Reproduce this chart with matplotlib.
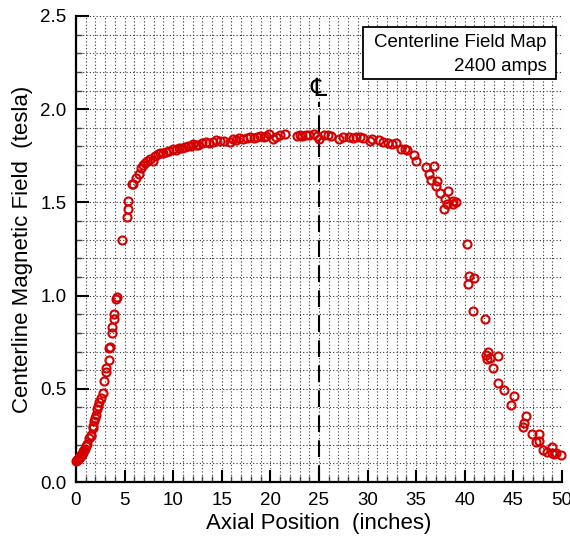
import matplotlib
matplotlib.use("Agg")
import matplotlib.pyplot as plt
from matplotlib.ticker import MultipleLocator
from matplotlib.patches import Rectangle

plt.rcParams['font.family'] = ['Liberation Sans', 'DejaVu Sans']

# ---- data ----
x_rise = [0.05, 0.1, 0.15, 0.2, 0.25, 0.3, 0.35, 0.4, 0.45, 0.5, 0.55, 0.6, 0.7, 0.75,
          0.8, 0.9, 1.05, 1.15, 1.35, 1.5, 1.52, 1.7, 1.72, 1.88, 1.96, 2.05, 2.2, 2.23,
          2.39, 2.53, 2.74, 2.84, 3.05, 3.11, 3.35, 3.42, 3.45, 3.73, 3.73, 3.87, 3.93,
          4.1, 4.18, 4.72, 5.2, 5.37, 5.37, 5.9]
y_rise = [0.115, 0.12, 0.118, 0.122, 0.125, 0.128, 0.13, 0.133, 0.137, 0.14, 0.145, 0.15,
          0.158, 0.165, 0.17, 0.178, 0.195, 0.205, 0.235, 0.25, 0.245, 0.29, 0.298, 0.326,
          0.341, 0.36, 0.39, 0.41, 0.43, 0.453, 0.48, 0.54, 0.59, 0.61, 0.655, 0.72, 0.725,
          0.80, 0.83, 0.876, 0.90, 0.98, 0.99, 1.30, 1.42, 1.465, 1.51, 1.60]

x_plateau = [5.8, 6.2, 6.5, 6.7, 6.9, 7.1, 7.3, 7.6, 7.9, 8.1, 8.4, 8.6, 9.0, 9.3, 9.6,
             10.0, 10.3, 10.6, 10.9, 11.2, 11.5, 11.8, 12.0, 12.3, 12.6, 13.0, 13.4, 13.7,
             14.1, 14.4, 14.8, 15.2, 15.8, 16.2, 16.5, 16.8, 17.2, 17.6, 17.9, 18.3, 18.6,
             18.9, 19.3, 19.6, 19.9, 20.3, 20.6, 21.0, 21.5, 22.7, 23.0, 23.3, 23.7, 24.0,
             24.5, 24.8, 25.05, 25.5, 25.9, 26.2, 27.1, 27.5, 28.1, 28.5, 28.8, 29.2, 29.5,
             30.2, 30.5, 31.2, 31.6, 32.1, 32.5, 32.9, 33.4, 33.9, 34.1, 34.8]
y_plateau = [1.60, 1.633, 1.655, 1.685, 1.70, 1.71, 1.72, 1.735, 1.72, 1.75, 1.76, 1.765,
             1.765, 1.77, 1.775, 1.785, 1.78, 1.79, 1.79, 1.795, 1.80, 1.80, 1.815, 1.81,
             1.81, 1.82, 1.823, 1.82, 1.825, 1.835, 1.83, 1.828, 1.824, 1.84, 1.835, 1.847,
             1.84, 1.845, 1.853, 1.845, 1.85, 1.856, 1.85, 1.855, 1.865, 1.842, 1.85, 1.86,
             1.865, 1.857, 1.86, 1.855, 1.86, 1.862, 1.865, 1.855, 1.842, 1.86, 1.86, 1.858,
             1.842, 1.85, 1.85, 1.845, 1.853, 1.85, 1.845, 1.83, 1.838, 1.835, 1.825, 1.82,
             1.815, 1.82, 1.785, 1.785, 1.78, 1.755]

x_fall = [35.0, 36.0, 36.3, 36.5, 36.8, 37.0, 37.1, 37.5, 37.9, 38.0, 38.2, 38.3, 38.8,
          38.8, 39.1, 40.2, 40.3, 40.4, 40.8, 41.0, 42.1, 42.2, 42.3, 42.4, 42.6, 42.9,
          43.4, 43.4, 44.0, 44.8, 45.1, 46.0, 46.1, 46.3, 46.9, 47.3, 47.6, 47.6, 48.0,
          48.5, 49.0, 49.0, 49.2, 49.4, 49.9]
y_fall = [1.72, 1.69, 1.655, 1.62, 1.695, 1.59, 1.615, 1.553, 1.467, 1.52, 1.49, 1.56,
          1.51, 1.49, 1.50, 1.276, 1.062, 1.105, 0.918, 1.097, 0.877, 0.68, 0.66, 0.695,
          0.663, 0.61, 0.677, 0.53, 0.494, 0.414, 0.462, 0.293, 0.316, 0.355, 0.257, 0.213,
          0.257, 0.22, 0.173, 0.162, 0.189, 0.155, 0.15, 0.158, 0.146]

centerline_x = 25
centerline_top = 2.04
legend_lines = ["Centerline Field Map", "2400 amps"]
x_label = "Axial Position  (inches)"
y_label = "Centerline Magnetic Field  (tesla)"

# ---- figure ----
fig = plt.figure(figsize=(5.70, 5.42), dpi=100)
ax = fig.add_axes([0.1333, 0.1107, 0.8526, 0.8598])

ax.set_xlim(0, 50)
ax.set_ylim(0, 2.5)
ax.xaxis.set_major_locator(MultipleLocator(5))
ax.xaxis.set_minor_locator(MultipleLocator(1))
ax.yaxis.set_major_locator(MultipleLocator(0.5))
ax.yaxis.set_minor_locator(MultipleLocator(0.1))
ax.yaxis.set_major_formatter(matplotlib.ticker.FormatStrFormatter('%.1f'))

ax.grid(True, which='both', linestyle=(0, (1, 2)), linewidth=0.8, color='#333333')
ax.set_axisbelow(True)

for s in ['top', 'right']:
    ax.spines[s].set_visible(False)
for s in ['left', 'bottom']:
    ax.spines[s].set_linewidth(1.6)

ax.tick_params(which='major', direction='in', length=9, width=1.5, labelsize=13.5, pad=7)
ax.tick_params(which='minor', direction='in', length=4.5, width=1.0, color='#444444')

xs = x_rise + x_plateau + x_fall
ys = y_rise + y_plateau + y_fall
ax.plot(xs, ys, linestyle='none', marker='o', markersize=5.8, markerfacecolor='none',
        markeredgecolor='#d40000', markeredgewidth=1.5, clip_on=False, zorder=3)

ax.plot([centerline_x, centerline_x], [0, centerline_top], color='black', lw=1.5,
        dashes=(8, 4), zorder=2)
ax.text(centerline_x, 2.11, "\u2104", family=['DejaVu Sans'], fontsize=18,
        ha='center', va='center')

ax.add_patch(Rectangle((0.590, 0.864), 0.398, 0.112, transform=ax.transAxes,
                       facecolor='white', edgecolor='black', lw=1.3, zorder=5))
ax.text(0.969, 0.943, legend_lines[0], transform=ax.transAxes, ha='right', va='center',
        fontsize=13.5, zorder=6)
ax.text(0.969, 0.891, legend_lines[1], transform=ax.transAxes, ha='right', va='center',
        fontsize=13.5, zorder=6)

ax.set_xlabel(x_label, fontsize=16, labelpad=3)
ax.set_ylabel(y_label, fontsize=16, labelpad=5)

fig.savefig("out.png", dpi=100)
